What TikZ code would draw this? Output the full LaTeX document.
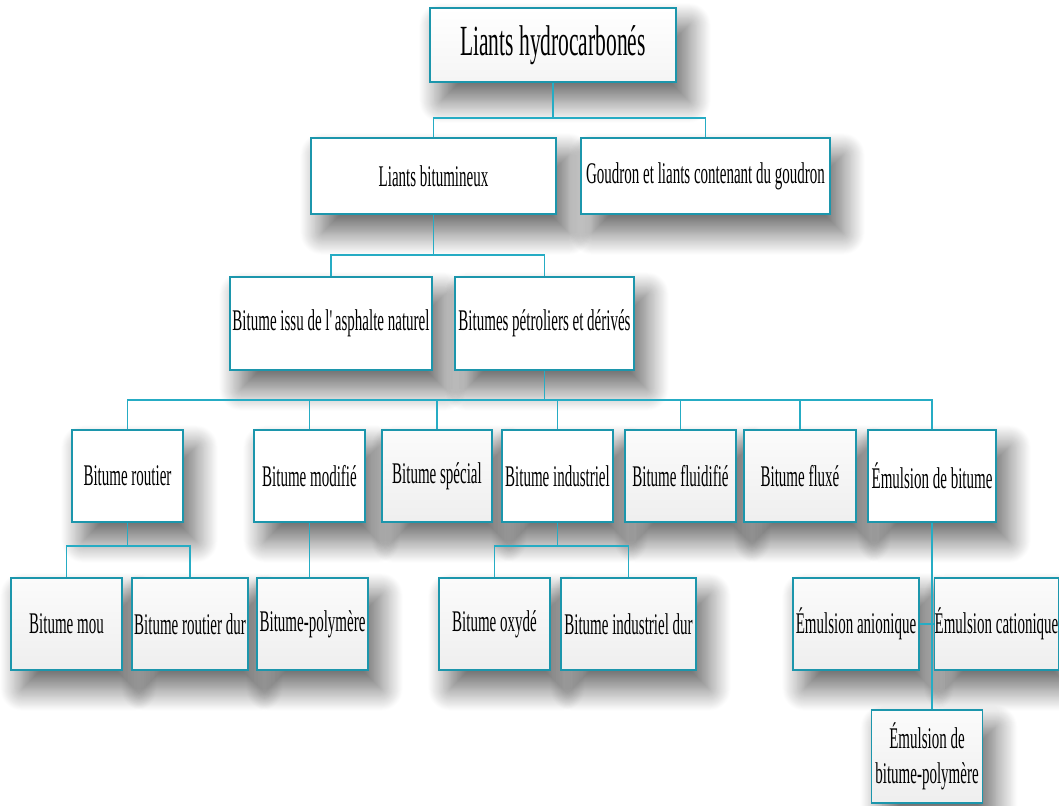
\documentclass[tikz,border=0pt]{standalone}
\usepackage{fontspec}
\setmainfont{Liberation Serif}[FakeStretch=0.5]
\usetikzlibrary{shadows.blur,backgrounds}
\definecolor{boxline}{RGB}{28,150,172}
\definecolor{linkcol}{RGB}{38,172,196}

\begin{document}
\begin{tikzpicture}[x=1pt, y=-1pt,
  box/.style={draw=boxline, line width=1.6pt, fill=white, inner sep=2pt,
    minimum height=92pt, font=\fontsize{30}{35}\selectfont},
  greybox/.style={box, top color=gray!3, bottom color=gray!13},
  link/.style={draw=linkcol, line width=1.6pt},
  boxshadow/.style={blur shadow={shadow xshift=12pt, shadow yshift=-18pt,
    shadow blur radius=22pt, shadow blur steps=24, shadow opacity=60}}]
  \useasboundingbox (0,0) rectangle (1059,805);

  % levels 1 to 3
  \node[box, minimum width=246pt, minimum height=74pt, top color=white, bottom color=gray!8,
    font=\fontsize{43}{48}\selectfont] (hydro) at (553,45) {Liants hydrocarbonés};
  \node[box, minimum width=245pt, minimum height=76pt] (bitum) at (433.5,176) {Liants bitumineux};
  \node[box, minimum width=249pt, minimum height=76pt] (goudron) at (705.5,176) {Goudron et liants contenant du goudron};
  \node[box, minimum width=202pt, minimum height=93pt] (asphalte) at (331,323.5) {Bitume issu de l\textquotesingle asphalte naturel};
  \node[box, minimum width=179pt, minimum height=93pt] (petrol) at (544.5,323.5) {Bitumes pétroliers et dérivés};

  % level 4
  \node[box, minimum width=111pt] (routier) at (127.5,476) {Bitume routier};
  \node[box, minimum width=111pt] (modif) at (309.5,476) {Bitume modifié};
  \node[greybox, minimum width=110pt] (special) at (437,476) {Bitume spécial};
  \node[box, minimum width=111pt] (indus) at (557.5,476) {Bitume industriel};
  \node[greybox, minimum width=111pt] (fluid) at (680.5,476) {Bitume fluidifié};
  \node[greybox, minimum width=112pt] (fluxe) at (800,476) {Bitume fluxé};
  \node[box, minimum width=128pt] (emuls) at (932,476) {Émulsion de bitume};

  % level 5
  \node[greybox, minimum width=111pt] (mou) at (66.5,624) {Bitume mou};
  \node[greybox, minimum width=116pt] (routdur) at (190,624) {Bitume routier dur};
  \node[greybox, minimum width=111pt] (polym) at (312.5,624) {Bitume-polymère};
  \node[greybox, minimum width=111pt] (oxyde) at (494.5,624) {Bitume oxydé};
  \node[greybox, minimum width=135pt] (indusdur) at (628.5,624) {Bitume industriel dur};
  \node[greybox, minimum width=126pt] (anion) at (856,624) {Émulsion anionique};
  \node[greybox, minimum width=124pt, inner sep=0pt] (cation) at (996.5,624) {Émulsion cationique};
  \node[greybox, minimum width=111pt, minimum height=93pt, align=center] (emulpoly) at (927,756.5) {Émulsion de\\bitume-polymère};

  \begin{scope}[on background layer]
    \foreach \n in {hydro,bitum,goudron,asphalte,petrol,routier,modif,special,indus,fluid,fluxe,emuls,
      mou,routdur,polym,oxyde,indusdur,anion,cation,emulpoly}
      \fill[white, boxshadow] (\n.south west) rectangle (\n.north east);
  \end{scope}

  \draw[link] (hydro.south) -- ++(0,35) -| (bitum.north);
  \draw[link] (hydro.south) -- ++(0,35) -| (goudron.north);
  \draw[link] (bitum.south) -- ++(0,40) -| (asphalte.north);
  \draw[link] (bitum.south) -- ++(0,40) -| (petrol.north);
  \foreach \n in {routier,modif,special,indus,fluid,fluxe,emuls}
    \draw[link] (petrol.south) -- ++(0,29) -| (\n.north);
  \foreach \n in {mou,routdur}
    \draw[link] (routier.south) -- ++(0,23) -| (\n.north);
  \draw[link] (modif.south) -- (modif.south |- polym.north);
  \foreach \n in {oxyde,indusdur}
    \draw[link] (indus.south) -- ++(0,23) -| (\n.north);
  \draw[link] (emuls.south) -- (emuls.south |- emulpoly.north);
  \draw[link] (anion.east) -- (cation.west);
\end{tikzpicture}
\end{document}
